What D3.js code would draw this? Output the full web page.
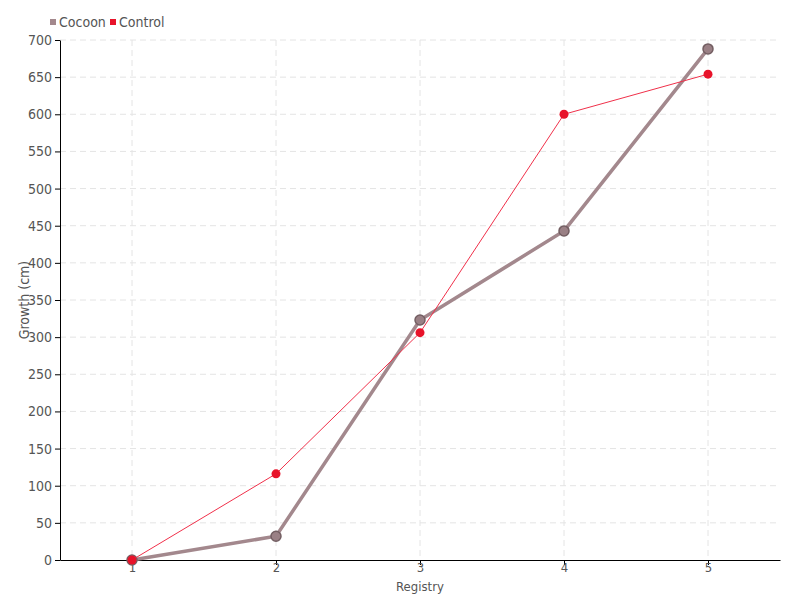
<!DOCTYPE html>
<html><head><meta charset="utf-8">
<script src="https://cdn.jsdelivr.net/npm/d3@7"></script>
<style>body{margin:0;background:#fff}svg text{font-family:"Liberation Sans Narrow","DejaVu Sans Condensed",sans-serif;fill:#555}</style>
</head><body><svg id="c" width="800" height="600"></svg>
<script>
const categories = [1, 2, 3, 4, 5];
const cocoon = [0, 32, 323, 443, 688];
const control = [0, 116, 306, 600, 654];
const yTicks = [0,50,100,150,200,250,300,350,400,450,500,550,600,650,700];
const seriesNames = ["Cocoon", "Control"];
const colors = {Cocoon: "#a3888d", Control: "#e8132a"};

const svg = d3.select("#c");
const x = d3.scaleLinear().domain([0.5, 5.5]).range([60, 780]);
const y = d3.scaleLinear().domain([0, 700]).range([560, 40]);

// grid
svg.append("g").selectAll("line").data(yTicks.slice(1)).join("line")
  .attr("x1", 60).attr("x2", 780).attr("y1", d => y(d)).attr("y2", d => y(d))
  .attr("stroke", "#e4e4e4").attr("stroke-dasharray", "6,4");
svg.append("g").selectAll("line").data(categories).join("line")
  .attr("x1", d => x(d)).attr("x2", d => x(d)).attr("y1", 40).attr("y2", 560)
  .attr("stroke", "#e4e4e4").attr("stroke-dasharray", "6,4");

// axes
const ya = svg.append("g").attr("transform", "translate(60,0)")
  .call(d3.axisLeft(y).tickValues(yTicks).tickSize(5).tickPadding(3).tickSizeOuter(0));
ya.select(".domain").attr("stroke", "#000");
ya.selectAll("line").attr("stroke", "#000");
ya.selectAll("text").attr("font-size", 14);
const xa = svg.append("g").attr("transform", "translate(0,560)")
  .call(d3.axisBottom(x).tickValues(categories).tickFormat(d3.format("d")).tickSize(5).tickPadding(-2).tickSizeOuter(0));
xa.select(".domain").attr("stroke", "#000");
xa.selectAll("line").attr("stroke", "#000");
xa.selectAll("text").attr("font-size", 13);

svg.append("text").attr("x", 420).attr("y", 591).attr("text-anchor", "middle")
  .attr("font-size", 13).text("Registry");
svg.append("text").attr("transform", "translate(29,300) rotate(-90)").attr("text-anchor", "middle")
  .attr("font-size", 14).text("Growth (cm)");

const line = d3.line().x((d, i) => x(categories[i])).y(d => y(d));

// Cocoon
svg.append("path").datum(cocoon).attr("d", line).attr("fill", "none")
  .attr("stroke", colors.Cocoon).attr("stroke-width", 3.5);
svg.append("g").selectAll("circle").data(cocoon).join("circle")
  .attr("cx", (d, i) => x(categories[i])).attr("cy", d => y(d)).attr("r", 5)
  .attr("fill", "#9a8085").attr("stroke", "#735e62").attr("stroke-width", 1.5);
// Control
svg.append("path").datum(control).attr("d", line).attr("fill", "none")
  .attr("stroke", "#f0304a").attr("stroke-width", 1);
svg.append("g").selectAll("circle").data(control).join("circle")
  .attr("cx", (d, i) => x(categories[i])).attr("cy", d => y(d)).attr("r", 4.5)
  .attr("fill", colors.Control);

// legend
const lg = svg.append("g");
const lx = [50, 110];
seriesNames.forEach((n, i) => {
  lg.append("rect").attr("x", lx[i]).attr("y", 19).attr("width", 6).attr("height", 6).attr("fill", colors[n]);
  lg.append("text").attr("x", lx[i] + 9).attr("y", 27).attr("font-size", 14).text(n);
});
</script></body></html>
